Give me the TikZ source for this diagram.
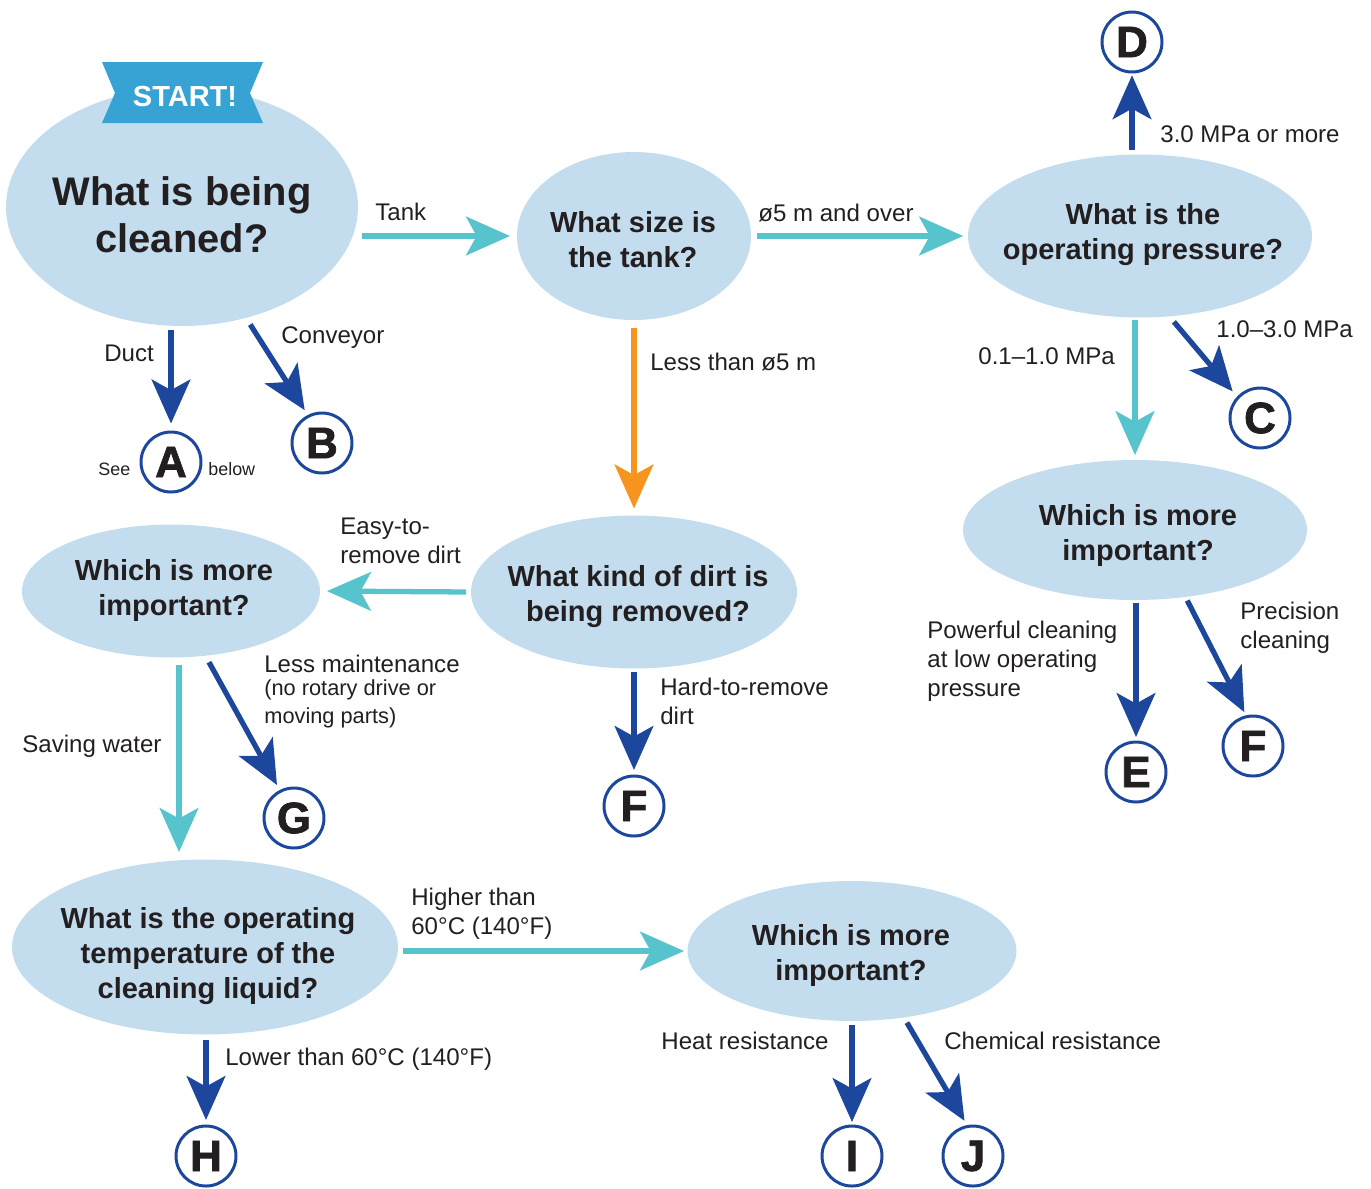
\documentclass[tikz,border=0pt]{standalone}
\usepackage{fontspec}
\setmainfont{Liberation Sans}
\newfontfamily\letterfont[FakeBold=1.6]{Liberation Sans}
\usetikzlibrary{arrows.meta,shapes.geometric,calc}
\definecolor{qfill}{HTML}{C3DDEE}
\definecolor{banner}{HTML}{36A3D4}
\definecolor{dblue}{HTML}{1C479D}
\definecolor{cyanar}{HTML}{57C3CD}
\definecolor{orangear}{HTML}{F7941D}
\definecolor{txt}{HTML}{231F20}
\begin{document}
\begin{tikzpicture}[x=0.02cm,y=-0.02cm,
  qell/.style={ellipse, fill=qfill, inner sep=0pt, outer sep=0pt},
  qt/.style={font=\bfseries\fontsize{16.5pt}{19.9pt}\selectfont, align=center, text=txt, inner sep=0pt},
  qbig/.style={font=\bfseries\fontsize{22.7pt}{26.7pt}\selectfont, align=center, text=txt, inner sep=0pt},
  lbl/.style={font=\fontsize{13.7pt}{16.5pt}\selectfont, text=txt, inner sep=0pt, align=left, anchor=base west},
  sml/.style={font=\fontsize{12.4pt}{15.4pt}\selectfont, text=txt, inner sep=0pt, align=left, anchor=base west},
  tiny/.style={font=\fontsize{10.2pt}{12pt}\selectfont, text=txt, inner sep=0pt, anchor=base west},
  lettr/.style={circle, draw=dblue, line width=1.7pt, fill=white, minimum size=1.2cm, inner sep=0pt,
    font=\letterfont\bfseries\fontsize{25pt}{25pt}\selectfont, text=txt},
  arr/.style={line width=3pt, -{Stealth[length=25pt, width=22pt, inset=6pt]}},
  ab/.style={arr, color=dblue},
  ac/.style={arr, color=cyanar},
  ao/.style={arr, color=orangear}
]
\useasboundingbox (0,0) rectangle (1371,1188);

% question ellipses
\node[qell, minimum width=7.04cm, minimum height=4.76cm] (q1) at (182,207) {};
\node[qell, minimum width=4.68cm, minimum height=3.36cm] (q2) at (634,236) {};
\node[qell, minimum width=6.88cm, minimum height=3.26cm] (q3) at (1140,236) {};
\node[qell, minimum width=6.88cm, minimum height=2.80cm] (q4) at (1135,530) {};
\node[qell, minimum width=6.52cm, minimum height=3.06cm] (q5) at (634,592) {};
\node[qell, minimum width=5.96cm, minimum height=2.66cm] (q6) at (171,591) {};
\node[qell, minimum width=7.72cm, minimum height=3.50cm] (q7) at (205,947) {};
\node[qell, minimum width=6.58cm, minimum height=2.80cm] (q8) at (852,951) {};

% START banner
\fill[banner] (102,62) -- (263,62) -- (250,93) -- (263,123) -- (102,123) -- (115,93) -- cycle;
\node[font=\bfseries\fontsize{16.5pt}{16.5pt}\selectfont, text=white, inner sep=0pt] (start) at (185,97) {START!};

% question texts
\node[qbig] (t1) at (182,215) {What is being\\cleaned?};
\node[qt] (t2) at (633,239.5) {What size is\\the tank?};
\node[qt] (t3) at (1143,234.5) {What is the\\operating pressure?};
\node[qt] (t4) at (1138,535.5) {Which is more\\important?};
\node[qt] (t5) at (638,597) {What kind of dirt is\\being removed?};
\node[qt] (t6) at (174,590.5) {Which is more\\important?};
\node[qt] (t7) at (208,956) {What is the operating\\temperature of the\\cleaning liquid?};
\node[qt] (t8) at (851,955.5) {Which is more\\important?};

% letter circles
\node[lettr] (A) at (171,462) {A};
\node[lettr] (B) at (322,443) {B};
\node[lettr] (D) at (1132,42) {D};
\node[lettr] (C) at (1260,418) {C};
\node[lettr] (E) at (1136,772) {E};
\node[lettr] (F2) at (1253,746) {F};
\node[lettr] (G) at (294,818) {G};
\node[lettr] (F1) at (634,806) {F};
\node[lettr] (H) at (206,1156) {H};
\node[lettr] (I) at (852,1156) {I};
\node[lettr] (J) at (973,1156) {J};

% connectors
\draw[ac, shorten <=2.3pt, shorten >=4pt] (q1.east |- q2.west) -- (q2.west);
\draw[ac, shorten <=3.4pt, shorten >=2.8pt] (q2.east) -- (q3.west);
\draw[ab, shorten <=2.3pt, shorten >=4pt] (q1.south -| A.north) -- (A.north);
\draw[ab, shorten <=4.5pt, shorten >=3.2pt] (q1.-60) -- (B.117);
\draw[ao, shorten <=4.5pt, shorten >=4pt] (q2.south) -- (q5.north);
\draw[ab, shorten <=2.6pt, shorten >=1pt] (q3.north -| D.south) -- (D.south);
\draw[ac, shorten <=1.4pt, shorten >=2.8pt] (q3.south -| q4.north) -- (q4.north);
\draw[ab, shorten <=4.1pt, shorten >=3.8pt] (q3.-70) -- (C.137);
\draw[ac, shorten <=2.8pt, shorten >=4pt] (q5.west) -- (q6.east);
\draw[ab, shorten <=2pt, shorten >=2.6pt] (q5.south -| F1.north) -- (F1.north);
\coordinate (sw) at ($(q6.south)+(8,0)$);
\draw[ac, shorten <=4.3pt, shorten >=4.3pt] (sw) -- (sw |- q7.north);
\draw[ab, shorten <=4.2pt, shorten >=3.2pt] (q6.-62) -- (G.117);
\draw[ab, shorten <=1.7pt, shorten >=2pt] (q4.south -| E.north) -- (E.north);
\draw[ab, shorten <=2.3pt, shorten >=2pt] (q4.-53) -- (F2.103);
\draw[ac, shorten <=2.8pt, shorten >=2pt] (q7.east |- q8.west) -- (q8.west);
\draw[ab, shorten <=3.1pt, shorten >=2.6pt] (q7.south -| H.north) -- (H.north);
\draw[ab, shorten <=2.3pt, shorten >=1.4pt] (q8.south -| I.north) -- (I.north);
\draw[ab, shorten <=3.4pt, shorten >=2.8pt] (q8.-52) -- (J.101);

% labels (multi-line: base = last line)
\node[lbl] (l1) at (375,220) {Tank};
\node[lbl] (l2) at (758,221) {ø5 m and over};
\node[lbl] (l3) at (104,361) {Duct};
\node[lbl] (l4) at (281,343) {Conveyor};
\node[lbl] (l5) at (650,370) {Less than ø5 m};
\node[lbl] (l6) at (1160,142) {3.0 MPa or more};
\node[lbl] (l7) at (978,364) {0.1–1.0 MPa};
\node[lbl] (l8) at (1216,337) {1.0–3.0 MPa};
\node[lbl] (l9) at (340,563) {Easy-to-\\remove dirt};
\node[lbl] (l10) at (660,724) {Hard-to-remove\\dirt};
\node[lbl] (l11) at (22,752) {Saving water};
\node[lbl] (l12) at (264,672) {Less maintenance};
\node[sml] (l12b) at (264,723) {(no rotary drive or\\moving parts)};
\node[lbl] (l13) at (927,696) {Powerful cleaning\\at low operating\\pressure};
\node[lbl] (l14) at (1240,648) {Precision\\cleaning};
\node[lbl] (l15) at (411,934) {Higher than\\60°C (140°F)};
\node[lbl] (l16) at (225,1065) {Lower than 60°C (140°F)};
\node[lbl, anchor=base east] (l17) at (829,1049) {Heat resistance};
\node[lbl] (l18) at (944,1049) {Chemical resistance};
\node[tiny] (see) at (98,475) {See};
\node[tiny] (below) at (208,475) {below};
\end{tikzpicture}
\end{document}
